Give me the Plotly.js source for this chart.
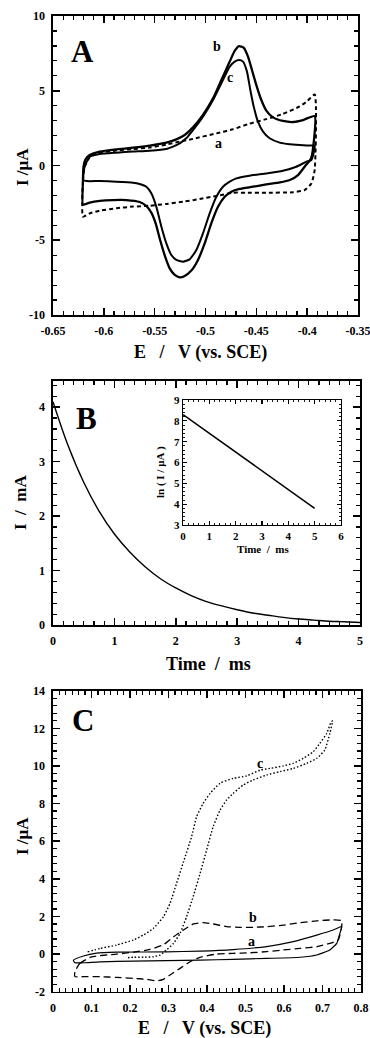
<!DOCTYPE html>
<html><head><meta charset="utf-8">
<script src="https://cdn.plot.ly/plotly-3.0.1.min.js"></script>
<style>body{margin:0;padding:0;background:#fff}#c{width:370px;height:1038px}</style>
</head><body><div id="c"></div>
<script>
// ---------- Panel A : CV (E / V vs SCE, I / uA) ----------
const A_b_E = [-0.6205,-0.6200,-0.6180,-0.6139,-0.6041,-0.5877,-0.5713,-0.5549,-0.5385,-0.5287,-0.5205,-0.5123,-0.5025,-0.4926,-0.4844,-0.4762,-0.4713,-0.4670,-0.4625,-0.4582,-0.4543,-0.4500,-0.4451,-0.4402,-0.4336,-0.4238,-0.4139,-0.4041,-0.3926,
  -0.3960,-0.4025,-0.4090,-0.4170,-0.4269,-0.4402,-0.4533,-0.4664,-0.4746,-0.4811,-0.4877,-0.4943,-0.5008,-0.5074,-0.5139,-0.5205,-0.5254,-0.5303,-0.5352,-0.5402,-0.5451,-0.5490,-0.5533,-0.5582,-0.5648,-0.5779,-0.5910,-0.6040,-0.6139,-0.6205,-0.6205];
const A_b_I = [-1.0,-0.08,0.41,0.70,0.93,1.08,1.19,1.33,1.53,1.75,2.04,2.55,3.38,4.49,5.72,6.95,7.66,7.99,7.88,7.28,6.39,5.38,4.38,3.67,3.22,2.98,2.91,3.04,3.31,
  0.5,-0.08,-0.64,-0.97,-1.13,-1.26,-1.42,-1.57,-1.75,-2.09,-2.76,-3.87,-5.21,-6.32,-7.03,-7.39,-7.48,-7.32,-6.88,-5.99,-4.87,-3.87,-3.15,-2.71,-2.44,-2.31,-2.31,-2.37,-2.48,-2.62,-1.0];
const A_c_E = [-0.6205,-0.6189,-0.6139,-0.6041,-0.5877,-0.5713,-0.5549,-0.5385,-0.5320,-0.5254,-0.5189,-0.5123,-0.5025,-0.4926,-0.4844,-0.4762,-0.4713,-0.4670,-0.4631,-0.4592,-0.4559,-0.4526,-0.4484,-0.4434,-0.4369,-0.4270,-0.4172,-0.4074,-0.3975,-0.3926,
  -0.3959,-0.4008,-0.4107,-0.4238,-0.4402,-0.4566,-0.4697,-0.4762,-0.4828,-0.4893,-0.4959,-0.5025,-0.5090,-0.5156,-0.5221,-0.5287,-0.5336,-0.5385,-0.5434,-0.5484,-0.5533,-0.5582,-0.5648,-0.5713,-0.5877,-0.6041,-0.6172,-0.6205];
const A_c_I = [-0.97,-0.08,0.59,0.77,0.86,0.93,0.99,1.10,1.26,1.48,1.82,2.37,3.27,4.38,5.50,6.61,6.95,7.06,6.95,6.28,5.05,3.94,2.93,2.26,1.82,1.53,1.42,1.37,1.33,1.33,
  0.37,0.25,-0.08,-0.35,-0.53,-0.68,-0.86,-1.08,-1.42,-2.09,-3.2,-4.54,-5.65,-6.28,-6.43,-6.32,-5.99,-5.21,-4.09,-2.75,-1.86,-1.42,-1.24,-1.15,-1.08,-1.04,-1.04,-0.97];
const A_a_E = [-0.6205,-0.6205,-0.6189,-0.6139,-0.6041,-0.5877,-0.5713,-0.5549,-0.5385,-0.5254,-0.5123,-0.4893,-0.4730,-0.4566,-0.4402,-0.4238,-0.4074,-0.4000,-0.3926,
  -0.3926,-0.3959,-0.4025,-0.4139,-0.4402,-0.4600,-0.4730,-0.4893,-0.5057,-0.5221,-0.5385,-0.5549,-0.5713,-0.5877,-0.6041,-0.6139,-0.6205];
const A_a_I = [-3.42,-1.0,-0.1,0.55,0.85,1.0,1.1,1.2,1.4,1.6,1.78,2.15,2.42,2.8,3.1,3.45,3.95,4.3,4.75,
  -0.3,-1.2,-1.64,-1.79,-1.82,-1.82,-1.82,-2.04,-2.24,-2.42,-2.57,-2.69,-2.75,-2.86,-3.02,-3.2,-3.42];
const A_xticks = [-0.65,-0.6,-0.55,-0.5,-0.45,-0.4,-0.35];
const A_xtext = ['-0.65','-0.6','-0.55','-0.5','-0.45','-0.4','-0.35'];
const A_yticks = [-10,-5,0,5,10];
const A_ytext = ['-10','-5','0','5','10'];

// ---------- Panel B : chronoamperogram ----------
const B_t = [0,0.25,0.5,0.75,1,1.25,1.5,1.75,2,2.25,2.5,2.75,3,3.25,3.5,3.75,4,4.25,4.5,4.75,5];
const B_I = [4.10,3.28,2.62,2.09,1.67,1.34,1.07,0.85,0.68,0.54,0.43,0.35,0.28,0.22,0.18,0.14,0.11,0.09,0.07,0.06,0.045];
const B_xticks = [0,1,2,3,4,5];
const B_yticks = [0,1,2,3,4];
// inset
const Bi_t = [0,1,2,3,4,5];
const Bi_lnI = [8.3,7.4,6.5,5.6,4.7,3.8];
const Bi_xticks = [0,1,2,3,4,5,6];
const Bi_yticks = [3,4,5,6,7,8,9];

// ---------- Panel C : CV ----------
const C_a_E = [0.053,0.079,0.113,0.165,0.295,0.382,0.468,0.555,0.624,0.685,0.728,0.750,0.745,0.737,0.719,0.685,0.642,0.555,0.468,0.382,0.295,0.209,0.122,0.079,0.057,0.053];
const C_a_I = [-0.32,-0.10,0.05,0.10,0.12,0.16,0.24,0.40,0.66,1.01,1.28,1.46,1.10,0.57,0.22,-0.05,-0.17,-0.23,-0.28,-0.32,-0.35,-0.37,-0.41,-0.46,-0.46,-0.32];
const C_b_E = [0.057,0.070,0.100,0.165,0.209,0.252,0.287,0.313,0.339,0.365,0.390,0.416,0.451,0.486,0.520,0.555,0.598,0.642,0.685,0.719,0.750,
  0.741,0.719,0.685,0.642,0.598,0.555,0.512,0.468,0.425,0.382,0.356,0.330,0.304,0.287,0.269,0.243,0.209,0.165,0.122,0.079,0.057,0.057];
const C_b_I = [-0.94,-0.49,-0.15,0.0,0.10,0.25,0.50,0.92,1.28,1.60,1.67,1.60,1.46,1.42,1.42,1.46,1.54,1.67,1.77,1.81,1.77,
  0.75,0.57,0.39,0.30,0.22,0.13,0.07,0.04,0.0,-0.17,-0.41,-0.76,-1.11,-1.34,-1.42,-1.34,-1.29,-1.24,-1.20,-1.20,-1.20,-0.94];
const C_c_E = [0.090,0.122,0.165,0.209,0.235,0.261,0.287,0.304,0.321,0.339,0.360,0.373,0.390,0.408,0.434,0.468,0.503,0.538,0.564,0.598,0.624,0.650,0.676,0.693,0.711,0.721,0.726,
  0.719,0.706,0.685,0.659,0.624,0.590,0.555,0.520,0.494,0.468,0.451,0.434,0.416,0.399,0.382,0.364,0.347,0.330,0.313,0.295,0.278,0.261,0.235,0.209,0.190];
const C_c_I = [0.12,0.30,0.48,0.75,1.01,1.37,1.99,2.70,3.76,4.91,6.24,7.30,8.01,8.54,9.08,9.34,9.47,9.78,9.87,10.0,10.14,10.4,10.76,11.2,11.73,12.27,12.39,
  11.73,10.85,10.4,10.14,9.87,9.70,9.52,9.25,8.99,8.54,8.19,7.66,6.77,5.53,4.29,3.05,1.99,1.10,0.57,0.22,-0.05,-0.14,-0.17,-0.17,-0.20];
const C_xticks = [0,0.1,0.2,0.3,0.4,0.5,0.6,0.7,0.8];
const C_yticks = [-2,0,2,4,6,8,10,12,14];
const C_ytext = ['-2','0','2','4','6','8','10','12','14'];

const SERIF = 'Liberation Serif, Times New Roman, serif';
const NB = '\u00a0';
const SP2 = NB + NB, SP3 = NB + NB + NB;

function ax(o) {
  return Object.assign({
    showgrid: false, zeroline: false, showline: true, linecolor: '#000', linewidth: 1.6,
    mirror: 'allticks', ticks: 'inside', ticklen: 7, tickwidth: 1.6, tickcolor: '#000',
    tickfont: {family: SERIF, size: 12, color: '#000', weight: 'bold'},
    ticklabelstandoff: 4, ticklabeloverflow: 'allow', fixedrange: true, tickmode: 'array'
  }, o);
}
function mnr(d) { return {dtick: d, ticks: 'inside', ticklen: 4, tickcolor: '#000', tickwidth: 1.2}; }

const traces = [
  {x: A_a_E, y: A_a_I, xaxis: 'x', yaxis: 'y', mode: 'lines', line: {color: '#000', width: 2, dash: '4px,3px', shape: 'spline', smoothing: 0.5}},
  {x: A_c_E, y: A_c_I, xaxis: 'x', yaxis: 'y', mode: 'lines', line: {color: '#000', width: 2, shape: 'spline', smoothing: 0.5}},
  {x: A_b_E, y: A_b_I, xaxis: 'x', yaxis: 'y', mode: 'lines', line: {color: '#000', width: 2.3, shape: 'spline', smoothing: 0.5}},
  {x: B_t, y: B_I, xaxis: 'x2', yaxis: 'y2', mode: 'lines', line: {color: '#000', width: 1.4, shape: 'spline'}},
  {x: Bi_t, y: Bi_lnI, xaxis: 'x3', yaxis: 'y3', mode: 'lines', line: {color: '#000', width: 1.6}},
  {x: C_a_E, y: C_a_I, xaxis: 'x4', yaxis: 'y4', mode: 'lines', line: {color: '#000', width: 1.2, shape: 'spline', smoothing: 0.5}},
  {x: C_b_E, y: C_b_I, xaxis: 'x4', yaxis: 'y4', mode: 'lines', line: {color: '#000', width: 1.3, dash: '7px,4px', shape: 'spline', smoothing: 0.5}},
  {x: C_c_E, y: C_c_I, xaxis: 'x4', yaxis: 'y4', mode: 'lines', line: {color: '#000', width: 1.4, dash: '1.5px,2px', shape: 'spline', smoothing: 0.5}}
];

const W = 370, H = 1038;
const dx = (a, b) => [a / W, b / W];
const dy = (top, bot) => [1 - bot / H, 1 - top / H];
const px = v => v / W, py = v => 1 - v / H;

function title(text, cx, cy, size, rot) {
  return {xref: 'paper', yref: 'paper', x: px(cx), y: py(cy), xanchor: 'center', yanchor: 'middle',
    text: text, showarrow: false, textangle: rot || 0,
    font: {family: SERIF, size: size, color: '#000', weight: 'bold'}};
}
function lab(xr, yr, x, y, t, size) {
  return {xref: xr, yref: yr, x: x, y: y, text: t, showarrow: false,
    font: {family: SERIF, size: size, color: '#000', weight: 'bold'}};
}

const layout = {
  width: W, height: H, margin: {l: 0, r: 0, t: 0, b: 0},
  paper_bgcolor: '#fff', plot_bgcolor: 'rgba(0,0,0,0)', showlegend: false,
  font: {family: SERIF, color: '#000'},
  xaxis: ax({domain: dx(53, 358), range: [-0.65, -0.35], anchor: 'y', tickvals: A_xticks, ticktext: A_xtext, minor: mnr(0.01)}),
  yaxis: ax({domain: dy(16, 315), range: [-10, 10], anchor: 'x', tickvals: A_yticks, ticktext: A_ytext, minor: mnr(1)}),
  xaxis2: ax({domain: dx(53, 360), range: [0, 5], anchor: 'y2', tickvals: B_xticks, minor: mnr(1/6)}),
  yaxis2: ax({domain: dy(381, 625), range: [0, 4.48], anchor: 'x2', tickvals: B_yticks, minor: mnr(0.2)}),
  xaxis3: ax({domain: dx(183, 341), range: [0, 6], anchor: 'y3', tickvals: Bi_xticks, ticklen: 4, linewidth: 1.3, tickwidth: 1.2,
    tickfont: {family: SERIF, size: 11, color: '#000', weight: 'bold'}, ticklabelstandoff: 0,
    minor: {dtick: 0.2, ticks: 'inside', ticklen: 2, tickcolor: '#000', tickwidth: 0.9}}),
  yaxis3: ax({domain: dy(400, 525), range: [3, 9], anchor: 'x3', tickvals: Bi_yticks, ticklen: 4, linewidth: 1.3, tickwidth: 1.2,
    tickfont: {family: SERIF, size: 11, color: '#000', weight: 'bold'}, ticklabelstandoff: 0,
    minor: {dtick: 0.2, ticks: 'inside', ticklen: 2, tickcolor: '#000', tickwidth: 0.9}}),
  xaxis4: ax({domain: dx(53, 361), range: [0, 0.8], anchor: 'y4', tickvals: C_xticks, minor: mnr(0.1/6)}),
  yaxis4: ax({domain: dy(690.7, 991.7), range: [-2, 14], anchor: 'x4', tickvals: C_yticks, ticktext: C_ytext, minor: mnr(0.4)}),
  annotations: [
    // axis titles
    title('E' + SP3 + '/' + SP3 + 'V (vs. SCE)', 200, 352, 18),
    title('I /\u03bcA', 22, 167, 17, -90),
    title('Time' + SP2 + '/' + SP2 + 'ms', 208, 664, 18),
    title('I' + SP2 + '/' + SP2 + 'mA', 21, 502, 17, -90),
    title('Time' + SP2 + '/' + SP2 + 'ms', 263, 549, 11),
    title('ln' + NB + '(' + NB + 'I' + NB + '/' + NB + '\u03bcA' + NB + ')', 161, 472, 11, -90),
    title('E' + SP3 + '/' + SP3 + 'V (vs. SCE)', 204, 1028, 18),
    title('I /\u03bcA', 22, 836, 17, -90),
    // panel letters & curve labels
    lab('x', 'y', -0.6205, 7.6, 'A', 31),
    lab('x', 'y', -0.4887, 7.93, 'b', 14),
    lab('x', 'y', -0.4759, 5.92, 'c', 14),
    lab('x', 'y', -0.4877, 1.44, 'a', 14),
    lab('x2', 'y2', 0.55, 3.8, 'B', 31),
    lab('x4', 'y4', 0.077, 12.44, 'C', 31),
    lab('x4', 'y4', 0.538, 10.14, 'c', 14),
    lab('x4', 'y4', 0.520, 1.96, 'b', 14),
    lab('x4', 'y4', 0.516, 0.66, 'a', 14)
  ]
};
Plotly.newPlot('c', traces, layout, {staticPlot: true, displayModeBar: false});
</script>
</body></html>
